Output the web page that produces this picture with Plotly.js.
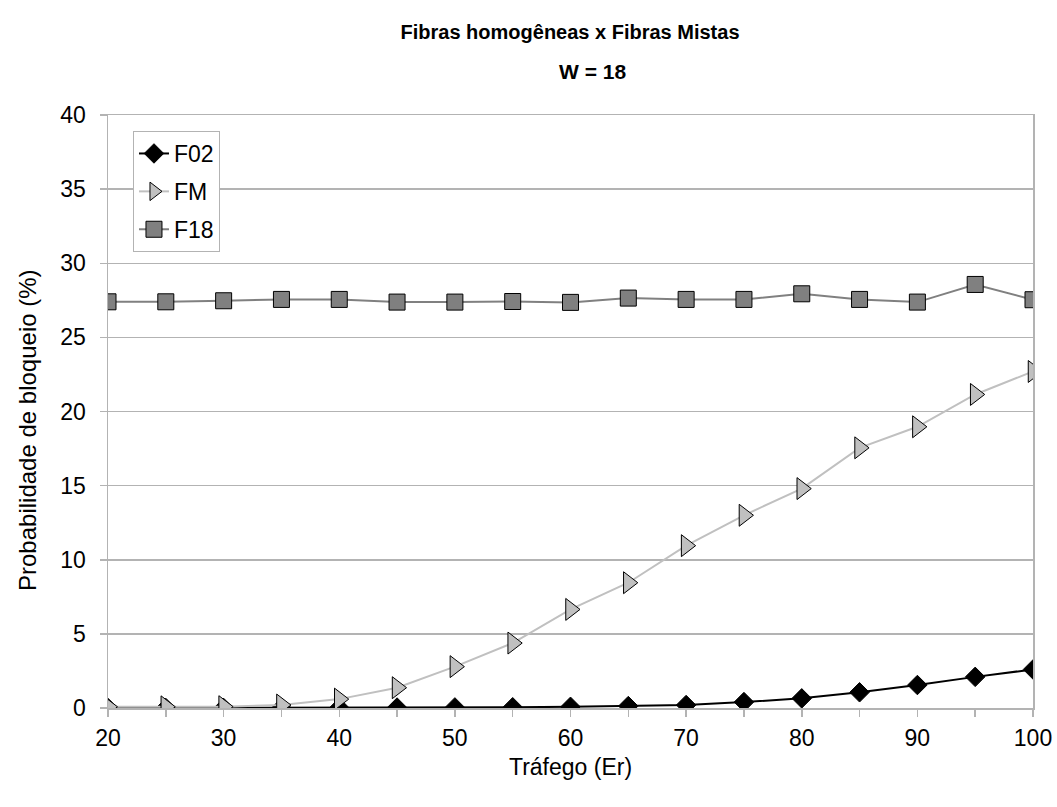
<!DOCTYPE html>
<html>
<head>
<meta charset="utf-8">
<script src="https://cdn.plot.ly/plotly-3.0.1.min.js"></script>
<style>html,body{margin:0;padding:0;background:#fff;}#chart{width:1057px;height:807px;}</style>
</head>
<body>
<div id="chart"></div>
<script>
const trafego = [20,25,30,35,40,45,50,55,60,65,70,75,80,85,90,95,100];
const f02 = [0,0,0,0.01,0.02,0.03,0.04,0.05,0.08,0.13,0.2,0.4,0.65,1.06,1.55,2.1,2.6];
const fm  = [0.08,0.08,0.09,0.2,0.6,1.37,2.79,4.38,6.65,8.45,10.95,13.0,14.8,17.55,18.97,21.15,22.7];
const f18 = [27.4,27.4,27.47,27.56,27.56,27.38,27.38,27.42,27.36,27.65,27.56,27.56,27.94,27.56,27.38,28.57,27.54];
const seriesNames = ["F02","FM","F18"];
const xTicks = [20,30,40,50,60,70,80,90,100];
const yTicks = [0,5,10,15,20,25,30,35,40];

const font = "Liberation Sans, Arial, sans-serif";
const traces = [
  {x: trafego, y: f02, name: seriesNames[0], legendgroup: "a", mode: "lines+markers",
   line: {color: "#000000", width: 2},
   marker: {symbol: "diamond", size: 15, color: "#000000", line: {color: "#000000", width: 1}}},
  {x: trafego, y: fm, name: seriesNames[1], legendgroup: "b", mode: "lines+markers",
   line: {color: "#c0c0c0", width: 2},
   marker: {symbol: "triangle-right", size: 19, color: "#c0c0c0", line: {color: "#000000", width: 1}}},
  {x: trafego, y: f18, name: seriesNames[2], legendgroup: "c", mode: "lines+markers",
   line: {color: "#808080", width: 2},
   marker: {symbol: "square", size: 16, color: "#808080", line: {color: "#000000", width: 1}}}
];

const layout = {
  width: 1057, height: 807,
  paper_bgcolor: "#ffffff", plot_bgcolor: "#ffffff",
  margin: {l: 108, r: 24, t: 115, b: 99},
  font: {family: font, size: 23, color: "#000000"},
  showlegend: true,
  title: {text: "<b>Fibras homogêneas x Fibras Mistas</b>", font: {family: font, size: 20, color: "#000"},
          x: 0.5393, xanchor: "center", xref: "container", yref: "container", y: 1 - 32/807, yanchor: "middle"},
  annotations: [
    {text: "<b>W = 18</b>", xref: "paper", yref: "paper", x: (592-108)/925, y: 1 + 43/593,
     yanchor: "middle", xanchor: "center", showarrow: false, font: {family: font, size: 21, color: "#000"}},
    {text: "Probabilidade de bloqueio (%)", xref: "paper", yref: "paper", x: (27-108)/925, y: (708-430)/593,
     xanchor: "center", yanchor: "middle", textangle: -90, showarrow: false, font: {family: font, size: 24, color: "#000"}}
  ],
  legend: {x: 0.027, y: 0.973, xanchor: "left", yanchor: "top", bgcolor: "#ffffff",
           bordercolor: "#b3b3b3", borderwidth: 1, font: {family: font, size: 23, color: "#000"},
           itemwidth: 30, traceorder: "grouped", tracegroupgap: 5},
  xaxis: {range: [20, 100], tickvals: xTicks, ticks: "outside", ticklen: 7, tickcolor: "#b3b3b3", tickwidth: 1.5,
          minor: {dtick: 5, tick0: 0, ticks: "outside", ticklen: 7, tickcolor: "#b3b3b3", tickwidth: 1.5, showgrid: false},
          showgrid: false, zeroline: false, showline: true, linecolor: "#b3b3b3", linewidth: 1.5, mirror: true,
          tickfont: {family: font, size: 23, color: "#000"}, ticklabelstandoff: 2,
          title: {text: "Tráfego (Er)", font: {family: font, size: 23, color: "#000"}, standoff: 9}},
  yaxis: {range: [0, 40], tickvals: yTicks, ticks: "outside", ticklen: 7, tickcolor: "#b3b3b3", tickwidth: 1.5,
          showgrid: true, gridcolor: "#b3b3b3", gridwidth: 1.5, zeroline: false,
          showline: true, linecolor: "#b3b3b3", linewidth: 1.5, mirror: true,
          tickfont: {family: font, size: 23, color: "#000"}, ticklabelstandoff: 9}
};

Plotly.newPlot("chart", traces, layout, {displayModeBar: false, staticPlot: true});
</script>
</body>
</html>
